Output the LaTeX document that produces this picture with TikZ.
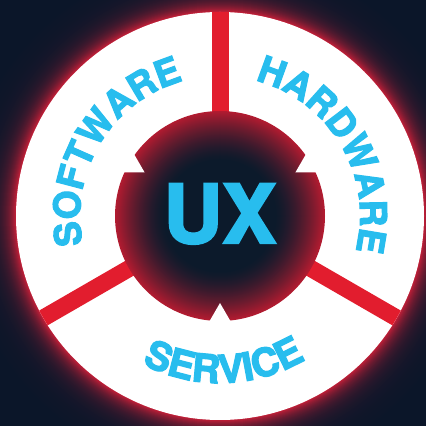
\documentclass[tikz,border=0pt]{standalone}
\usepackage{fontspec}
\newfontfamily\heros[BoldFeatures={FakeBold=3}]{TeX Gyre Heros}
\usetikzlibrary{decorations.text,calc}
\definecolor{bgnavy}{HTML}{0B1629}
\definecolor{uxcyan}{HTML}{28BDEE}
\definecolor{divred}{HTML}{E21D2E}
\definecolor{glowA}{HTML}{CC1F38}
\definecolor{rimA}{HTML}{B21B30}
\definecolor{coreN}{HTML}{0C1A2B}
\newcommand\ringfmt{\heros\bfseries\fontsize{37pt}{37pt}\selectfont}
\newcommand\ringfmtb{\heros\bfseries\fontsize{39pt}{39pt}\selectfont}
\newcommand\uxfmt{\heros\bfseries\fontsize{81pt}{81pt}\selectfont}
\begin{document}
\begin{tikzpicture}[x=1pt,y=1pt,
  ringtext/.style={decorate, decoration={text along path, text align=center, text color=uxcyan, text={|\ringfmt|#1}}},
  ringtextb/.style={decorate, decoration={text along path, text align=center, text color=uxcyan, text={|\ringfmtb|#1}}},
  divider/.style={divred, line width=17pt},
  tooth/.style={fill=white}]
\useasboundingbox (0,0) rectangle (426,426);
\fill[bgnavy] (0,0) rectangle (426,426);
\coordinate (C) at (220,210);
\begin{scope}
  \clip (0,0) rectangle (426,426);
  \foreach \r in {258,257,...,204} {
    \pgfmathsetmacro\p{100*exp(-(\r-204)/11)}
    \fill[glowA!\p!bgnavy] (C) circle[radius=\r pt];
  }
\end{scope}
\fill[white] (C) circle[radius=204pt];
\begin{scope}
  \clip (C) circle[radius=204pt];
  \foreach \a in {90,210,330} {
    \coordinate (d1) at ($(C)+(\a:95)$);
    \coordinate (d2) at ($(C)+(\a:215)$);
    \draw[divider] (d1) -- (d2);
  }
\end{scope}
\foreach \r in {105,104,...,55} {
  \pgfmathsetmacro\p{100*((\r-55)/50)^1.5}
  \fill[rimA!\p!coreN] (C) circle[radius=\r pt];
}
\foreach \a in {150,30,270} {
  \coordinate (tip) at ($(C)+(\a:87)$);
  \fill[tooth] (tip) -- +(\a+30:30) -- +(\a-30:30) -- cycle;
}
\node[font=\uxfmt, text=uxcyan, anchor=base, inner sep=0pt] (ux) at (220,183) {UX};
\path[ringtext=SOFTWARE] ($(C)+(200:140)$) arc[start angle=200, end angle=97, radius=140pt];
\path[ringtext=HARDWARE] ($(C)+(82:140)$) arc[start angle=82, end angle=-21, radius=140pt];
\path[ringtextb=SERVICE] ($(C)+(-140:167)$) arc[start angle=-140, end angle=-37, radius=167pt];
\end{tikzpicture}
\end{document}
